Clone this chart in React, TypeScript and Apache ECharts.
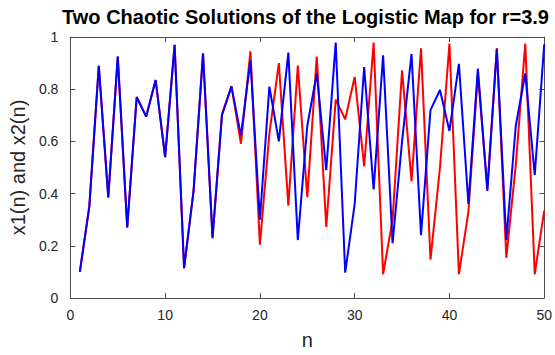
import React, { useEffect, useRef } from "react";
import * as echarts from "echarts";

const titleText = "Two Chaotic Solutions of the Logistic Map for r=3.9";
const xLabel = "n";
const yLabel = "x1(n) and x2(n)";

const nValues = [
  1, 2, 3, 4, 5, 6, 7, 8, 9, 10,
  11, 12, 13, 14, 15, 16, 17, 18, 19, 20,
  21, 22, 23, 24, 25, 26, 27, 28, 29, 30,
  31, 32, 33, 34, 35, 36, 37, 38, 39, 40,
  41, 42, 43, 44, 45, 46, 47, 48, 49, 50,
];

const x1Values = [
  0.10, 0.35, 0.89, 0.385, 0.925, 0.27, 0.77, 0.695, 0.835, 0.54,
  0.97, 0.114, 0.41, 0.937, 0.229, 0.70, 0.81, 0.622, 0.91, 0.30,
  0.81, 0.60, 0.94, 0.222, 0.66, 0.86, 0.49, 0.979, 0.097, 0.36,
  0.885, 0.416, 0.93, 0.21, 0.60, 0.935, 0.241, 0.72, 0.797, 0.64,
  0.897, 0.36, 0.879, 0.41, 0.954, 0.222, 0.66, 0.86, 0.472, 0.972,
];

const x2Values = [
  0.10, 0.35, 0.89, 0.385, 0.925, 0.27, 0.77, 0.695, 0.835, 0.54,
  0.97, 0.114, 0.41, 0.937, 0.232, 0.705, 0.812, 0.591, 0.945, 0.204,
  0.63, 0.90, 0.354, 0.891, 0.386, 0.925, 0.272, 0.76, 0.685, 0.847,
  0.504, 0.979, 0.091, 0.30, 0.872, 0.447, 0.957, 0.147, 0.50, 0.975,
  0.091, 0.33, 0.86, 0.42, 0.958, 0.154, 0.51, 0.975, 0.091, 0.335,
];

const FONT = "'Liberation Sans', Arial, Helvetica, sans-serif";
const AXIS_COLOR = "#4d4d4d";
const TEXT_COLOR = "#262626";

export default function App() {
  const ref = useRef<HTMLDivElement>(null);

  useEffect(() => {
    if (!ref.current) return;
    const chart = echarts.init(ref.current, null, { renderer: "svg" });

    const commonX = {
      type: "value" as const,
      min: 0,
      max: 50,
      interval: 10,
      splitLine: { show: false },
      axisLine: { show: true, onZero: false, lineStyle: { color: AXIS_COLOR, width: 1 } },
      axisTick: { show: true, inside: true, length: 5, lineStyle: { color: AXIS_COLOR } },
    };
    const commonY = {
      type: "value" as const,
      min: 0,
      max: 1,
      interval: 0.2,
      splitLine: { show: false },
      axisLine: { show: true, onZero: false, lineStyle: { color: AXIS_COLOR, width: 1 } },
      axisTick: { show: true, inside: true, length: 5, lineStyle: { color: AXIS_COLOR } },
    };

    chart.setOption({
      animation: false,
      backgroundColor: "#ffffff",
      grid: { left: 66, right: 10, top: 37, bottom: 51, containLabel: false },
      graphic: [
        {
          type: "text",
          x: 305.5,
          y: 17,
          style: {
            text: titleText,
            fill: "#000000",
            font: `bold 20px ${FONT}`,
            fontSize: 20,
            fontWeight: "bold",
            fontFamily: FONT,
            textAlign: "center",
            textVerticalAlign: "middle",
            align: "center",
            verticalAlign: "middle",
          },
        },
      ],
      xAxis: [
        {
          ...commonX,
          position: "bottom",
          name: xLabel,
          nameLocation: "middle",
          nameGap: 32,
          nameTextStyle: { color: TEXT_COLOR, fontSize: 20, fontFamily: FONT },
          axisLabel: { show: true, margin: 10, color: TEXT_COLOR, fontSize: 14, fontFamily: FONT },
        },
        {
          ...commonX,
          position: "top",
          axisLabel: { show: false },
        },
      ],
      yAxis: [
        {
          ...commonY,
          position: "left",
          name: yLabel,
          nameLocation: "middle",
          nameGap: 34,
          nameTextStyle: { color: TEXT_COLOR, fontSize: 20, fontFamily: FONT },
          axisLabel: { show: true, margin: 12, color: TEXT_COLOR, fontSize: 14, fontFamily: FONT },
        },
        {
          ...commonY,
          position: "right",
          axisLabel: { show: false },
        },
      ],
      series: [
        {
          type: "line",
          name: "x2",
          xAxisIndex: 0,
          yAxisIndex: 0,
          data: nValues.map((n, i) => [n, x2Values[i]]),
          showSymbol: false,
          symbol: "none",
          lineStyle: { color: "#ff0000", width: 2 },
          itemStyle: { color: "#ff0000" },
        },
        {
          type: "line",
          name: "x1",
          xAxisIndex: 0,
          yAxisIndex: 0,
          data: nValues.map((n, i) => [n, x1Values[i]]),
          showSymbol: false,
          symbol: "none",
          lineStyle: { color: "#0000ff", width: 2 },
          itemStyle: { color: "#0000ff" },
        },
      ],
    });

    return () => {
      chart.dispose();
    };
  }, []);

  return (
    <div
      ref={ref}
      style={{ position: "fixed", left: 0, top: 0, width: 555, height: 355, background: "#fff" }}
    />
  );
}
